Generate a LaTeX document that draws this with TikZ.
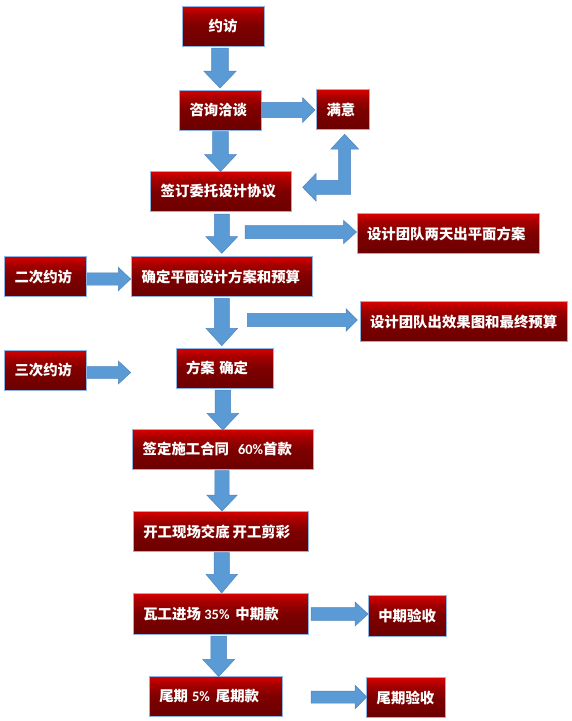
\documentclass[tikz,border=0pt]{standalone}
\usepackage{fontspec}
\newfontfamily\cjk{Noto Sans CJK SC}
\newfontfamily\lat{Carlito}
\definecolor{rtop}{RGB}{215,0,0}
\definecolor{rupper}{RGB}{165,0,0}
\definecolor{rmid}{RGB}{125,0,0}
\definecolor{rbot}{RGB}{108,0,0}
\definecolor{boxborder}{RGB}{141,180,226}
\definecolor{arrowblue}{RGB}{91,155,213}
\definecolor{arrowedge}{RGB}{78,132,192}
\pgfdeclareverticalshading{boxshade}{100bp}{color(0bp)=(rbot); color(25bp)=(rbot); color(50bp)=(rmid); color(65bp)=(rupper); color(75bp)=(rtop); color(100bp)=(rtop)}
\tikzset{
  flowbox/.style={draw=boxborder, line width=0.9pt, shade, shading=boxshade,
    inner xsep=10pt, inner ysep=0pt, text=white, align=left,
    font=\cjk\bfseries\fontsize{14.4}{16}\selectfont},
  barrow/.style={fill=arrowblue, draw=arrowedge, line width=0.5pt, line join=miter}
}
% #1 name, #2 x1, #3 y1, #4 x2, #5 y2, #6 alignment, #7 text
\newcommand\flowbox[7]{%
  \pgfmathsetmacro\fbw{#4-#2}%
  \pgfmathsetmacro\fbh{#5-#3}%
  \pgfmathsetmacro\fbtw{#4-#2-20}%
  \pgfmathsetmacro\fbcx{(#2+#4)/2}%
  \pgfmathsetmacro\fbcy{(#3+#5)/2}%
  \node[flowbox, align=#6, minimum width=\fbw pt, minimum height=\fbh pt, text width=\fbtw pt] (#1) at (\fbcx,\fbcy) {\mbox{#7}};%
}
% down block arrow: #1 cx, #2 top, #3 head start, #4 tip, #5 shaft half, #6 head half
\newcommand\downarr[6]{%
  \draw[barrow] ({#1-#5},#2) -- ({#1+#5},#2) -- ({#1+#5},#3) -- ({#1+#6},#3) -- (#1,#4) -- ({#1-#6},#3) -- ({#1-#5},#3) -- cycle;}
% right block arrow: #1 cy, #2 left, #3 head start, #4 tip, #5 shaft half, #6 head half
\newcommand\rightarr[6]{%
  \draw[barrow] (#2,{#1-#5}) -- (#3,{#1-#5}) -- (#3,{#1-#6}) -- (#4,#1) -- (#3,{#1+#6}) -- (#3,{#1+#5}) -- (#2,{#1+#5}) -- cycle;}
\newcommand\pct[1]{{\lat\bfseries #1}}
\begin{document}
\begin{tikzpicture}[x=1pt,y=-1pt]
\fill[white] (0,0) rectangle (572,721);
\useasboundingbox (0,0) rectangle (572,721);

% boxes
\flowbox{yf}{182}{6}{264}{46}{center}{约访}
\flowbox{zx}{179.5}{90}{261.5}{130}{left}{咨询洽谈}
\flowbox{my}{316.5}{89.5}{369.5}{129.5}{left}{满意}
\flowbox{qd}{150.7}{171.7}{291.3}{211.3}{left}{签订委托设计协议}
\flowbox{sja}{357}{213.5}{539}{253.5}{left}{设计团队两天出平面方案}
\flowbox{ec}{4.5}{256.7}{86}{296.7}{left}{二次约访}
\flowbox{qp}{131.7}{256.7}{312}{296.7}{left}{确定平面设计方案和预算}
\flowbox{sjb}{360}{301.7}{567.5}{341.7}{left}{设计团队出效果图和最终预算}
\flowbox{sc}{4.5}{350}{86}{390}{left}{三次约访}
\flowbox{fa}{176}{348.3}{273}{388.3}{left}{方案\hspace{4.5pt}确定}
\flowbox{sg}{132.7}{429.3}{313.3}{469.3}{left}{签定施工合同\hspace{9pt}\pct{60\%}首款}
\flowbox{kg}{133.3}{511.7}{308.3}{551.3}{left}{开工现场交底\hspace{3pt}开工剪彩}
\flowbox{wg}{133.3}{593.3}{308.3}{634}{left}{瓦工进场\hspace{3.5pt}\pct{35\%}\hspace{6pt}中期款}
\flowbox{zq}{368.3}{595.7}{446.7}{636}{left}{中期验收}
\flowbox{wq}{149.3}{676.7}{282.7}{716}{left}{尾期\hspace{4pt}\pct{5\%}\hspace{6pt}尾期款}
\flowbox{wy}{366.7}{677.7}{445.7}{717.7}{left}{尾期验收}

% down arrows
\downarr{220}{48}{71}{88}{8.3}{16.3}
\downarr{220.5}{131.7}{154.5}{171.5}{7.8}{16}
\downarr{221.8}{214}{236.7}{253.3}{7.5}{15.8}
\downarr{221.8}{298.3}{328.3}{345.7}{7.5}{15.8}
\downarr{222.8}{390}{413.3}{430}{7.8}{15.8}
\downarr{222}{470.7}{495}{511}{7.2}{15.3}
\downarr{221.7}{552.7}{574.3}{593}{7.7}{15.7}
\downarr{218.7}{636}{659.3}{676.5}{7.8}{16}

% right arrows
\rightarr{110}{261.7}{302.7}{315}{7.7}{12.2}
\rightarr{232}{245}{343.5}{356.5}{6.5}{11.7}
\rightarr{279}{87.3}{118.3}{130.7}{6.2}{11.7}
\rightarr{320}{247.3}{346}{357.3}{6.7}{11.3}
\rightarr{372.5}{87.3}{118.3}{130.7}{5.8}{11.5}
\rightarr{614}{311}{355}{368}{6.3}{12}
\rightarr{697}{311}{355}{366.7}{6}{11.8}

% bent arrow from 签订委托设计协议 up to 满意
\draw[barrow] (344.7,134.3) -- (358.5,149) -- (350.7,149) -- (350.7,194.3)
  -- (316,194.3) -- (316,201) -- (302.7,187.3) -- (316,173.5) -- (316,180.3)
  -- (338.7,180.3) -- (338.7,149) -- (330.9,149) -- cycle;
\end{tikzpicture}
\end{document}
